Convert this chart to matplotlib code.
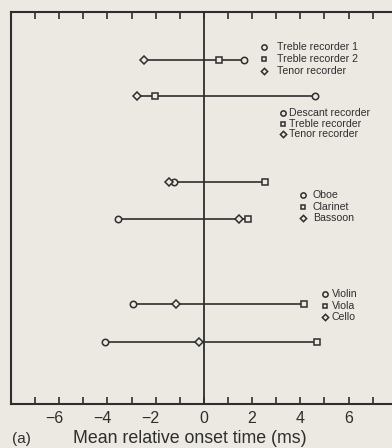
import matplotlib
matplotlib.use("Agg")
import matplotlib.pyplot as plt
import matplotlib.transforms as mtransforms
import numpy as np

plt.rcParams['font.family'] = ['Liberation Sans', 'DejaVu Sans']

# Data: mean relative onset times (ms), three instruments per row
circle_vals = [1.67, 4.6, -1.24, -3.58, -2.96, -4.12]
square_vals = [0.62, -2.02, 2.52, 1.83, 4.14, 4.68]
diamond_vals = [-2.47, -2.78, -1.45, 1.45, -1.17, -0.21]

legend_groups = [
    ["Treble recorder 1", "Treble recorder 2", "Tenor recorder"],
    ["Descant recorder", "Treble recorder", "Tenor recorder"],
    ["Oboe", "Clarinet", "Bassoon"],
    ["Violin", "Viola", "Cello"],
]
xticks = [-6, -4, -2, 0, 2, 4, 6]

BG = "#ece8e2"
INK = "#2e2e2e"

fig = plt.figure(figsize=(3.92, 4.48), dpi=100, facecolor=BG)
W, H = 392, 448
ax_left_px, ax_top_px, ax_bot_px = 11, 12, 404
px_per_unit = 24.1
x0_px = 204
ax_right_px = x0_px + 8 * px_per_unit
ax = fig.add_axes([ax_left_px / W, 1 - ax_bot_px / H,
                   (ax_right_px - ax_left_px) / W, (ax_bot_px - ax_top_px) / H])
ax.set_facecolor(BG)
ax.set_xlim(-8, 8)
ax.set_ylim(ax_bot_px - ax_top_px, 0)

# row y positions (in pixels from top of axes)
row_y = [48, 84, 170, 207, 292, 330]

ms = 4.6
mew = 1.1
for i, y in enumerate(row_y):
    vals = [circle_vals[i], square_vals[i], diamond_vals[i]]
    ax.plot([min(vals), max(vals)], [y, y], color=INK, lw=1.2, zorder=2)
    ax.plot(circle_vals[i], y, marker='o', ms=ms, mfc=BG, mec=INK, mew=mew, zorder=3)
    ax.plot(square_vals[i], y, marker='s', ms=ms - 0.6, mfc=BG, mec=INK, mew=mew, zorder=3)
    ax.plot(diamond_vals[i], y, marker='D', ms=ms - 0.8, mfc=BG, mec=INK, mew=mew, zorder=3)

# zero line
ax.axvline(0, color=INK, lw=1.3, zorder=1)

# legends (marker x px, text x px, y px list)
leg_pos = [
    (264, 277, [47, 59, 71]),
    (283, 289, [113, 124, 134]),
    (303, 313, [195, 207, 218]),
    (325, 332, [294, 306, 317]),
]
markers = [('o', ms - 0.8), ('s', ms - 1.2), ('D', ms - 1.4)]
for labels, (mx, tx, ys) in zip(legend_groups, leg_pos):
    for lab, (mk, s), ypx in zip(labels, markers, ys):
        yy = ypx - ax_top_px
        ax.plot((mx - x0_px) / px_per_unit, yy, marker=mk, ms=s, mfc=BG, mec=INK, mew=1.1)
        ax.text((tx - x0_px) / px_per_unit, yy, lab, fontsize=7.6, color=INK,
                va='center', ha='left')

# spines & ticks
for s in ['left', 'top', 'bottom']:
    ax.spines[s].set_color(INK)
    ax.spines[s].set_linewidth(1.5)
ax.spines['right'].set_visible(False)
ax.set_yticks([])
ax.set_xticks(xticks)
ax.set_xticklabels([("\u2212%d" % -t) if t < 0 else str(t) for t in xticks])
ax.set_xticks(np.arange(-7, 8, 1), minor=True)
ax.tick_params(axis='x', which='both', direction='in', top=True, bottom=True,
               length=5, width=1.2, color=INK, labelsize=11.5, labelcolor=INK, pad=5)
# centre the digit (not the minus sign) on the tick
shift = mtransforms.ScaledTranslation(-5 / 100, 0, fig.dpi_scale_trans)
for t, lab in zip(xticks, ax.get_xticklabels()):
    if t < 0:
        lab.set_transform(lab.get_transform() + shift)

fig.text(12 / W, 1 - 443 / H, "(a)", fontsize=11, color=INK, va='baseline', ha='left')
fig.text(73 / W, 1 - 443 / H, "Mean relative onset time (ms)", fontsize=12.8,
         color=INK, va='baseline', ha='left')

fig.savefig("out.png", dpi=100, facecolor=BG)
